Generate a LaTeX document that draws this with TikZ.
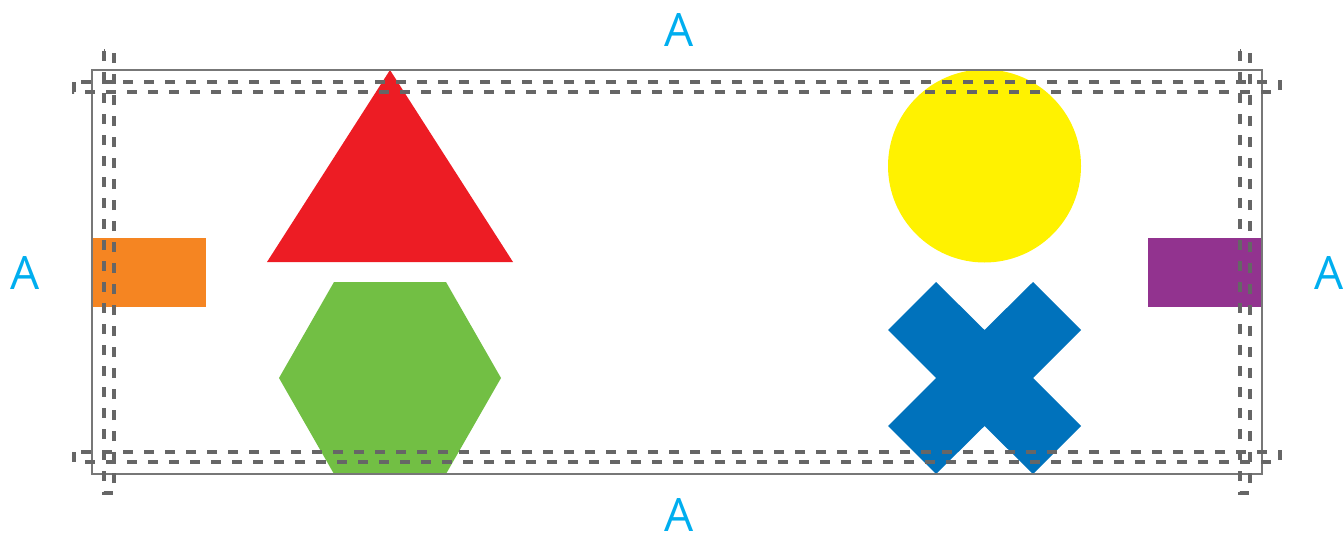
\documentclass[tikz,border=0pt]{standalone}
\usepackage{fontspec}
\setmainfont{Open Sans}
\definecolor{cred}{HTML}{ED1C24}
\definecolor{corange}{HTML}{F58522}
\definecolor{cgreen}{HTML}{72BF44}
\definecolor{cyellow}{HTML}{FFF200}
\definecolor{cblue}{HTML}{0072BC}
\definecolor{cpurple}{HTML}{92338F}
\definecolor{ccyan}{HTML}{00AEEF}
\definecolor{cgray}{HTML}{666666}
\definecolor{cframe}{HTML}{777777}
\begin{document}
\begin{tikzpicture}[x=0.75pt,y=-0.75pt,
  lbl/.style={text=ccyan,font=\fontsize{34.5}{40}\selectfont,inner sep=0pt,anchor=base},
  guide/.style={draw=cgray,line width=2.6pt,dash pattern=on 7.5pt off 8.25pt},
  frame/.style={draw=cframe,line width=1pt}]
\useasboundingbox (0,0) rectangle (1344,535);
% shapes
\fill[corange] (92,238) rectangle (206,307);
\fill[cpurple] (1148,238) rectangle (1262,307);
\fill[cred] (390,70) -- (513,262) -- (267,262) -- cycle;
\fill[cgreen] (334,282) -- (446,282) -- (501,378) -- (446,474) -- (334,474) -- (279,378) -- cycle;
\fill[cyellow] (984.5,166) circle (96.5);
\fill[cblue] (936,282) -- (984.5,330) -- (1033,282) -- (1081,330) -- (1033,378) -- (1081,426)
  -- (1033,474) -- (984.5,426) -- (936,474) -- (888,426) -- (936,378) -- (888,330) -- cycle;
% frame
\draw[frame] (92,70) rectangle (1262,474);
% guides
\draw[guide] (74,82) rectangle (1280,92);
\draw[guide] (74,452) rectangle (1280,462);
\draw[guide] (104,51) rectangle (114,493);
\draw[guide] (1240,51) rectangle (1250,493);
% labels
\node[lbl] (top) at (679.5,47) {A};
\node[lbl] (bottom) at (679.5,531) {A};
\node[lbl] (left) at (25,289) {A};
\node[lbl] (right) at (1329,289) {A};
\end{tikzpicture}
\end{document}
